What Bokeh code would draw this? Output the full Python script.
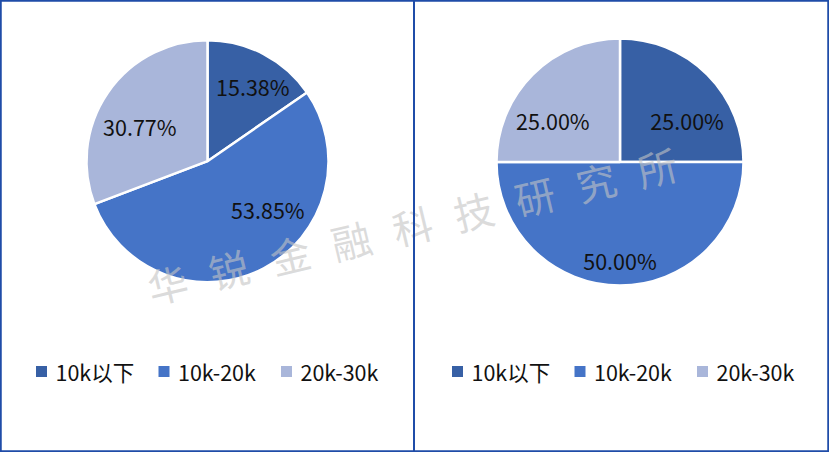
import math
from bokeh.plotting import figure
from bokeh.models import Range1d, Span, ColumnDataSource
from bokeh.core.properties import value
from bokeh.embed import file_html
from bokeh.resources import INLINE

# data
categories = ["10k以下", "10k-20k", "20k-30k"]
share_left = [15.38, 53.85, 30.77]
share_right = [25.00, 50.00, 25.00]
colors = ["#3760A5", "#4574C7", "#A9B6DA"]
watermark = "华锐金融科技研究所"

# drawing is done in reference pixel space (y measured downward, flipped below)
REF_W, REF_H = 829, 452
FONT = "Noto Sans CJK SC"

p = figure(width=REF_W, height=REF_H, x_range=Range1d(0, REF_W), y_range=Range1d(0, REF_H),
           output_backend="svg", toolbar_location=None, min_border=0)
p.axis.visible = False
p.grid.visible = False
p.outline_line_color = "#1F4CA8"
p.outline_line_width = 2.5
p.background_fill_color = "white"

# divider between the two panels
p.add_layout(Span(location=413.5, dimension="height", line_color="#1F4CA8", line_width=2))


def draw_pie(cx, cy, r, shares, nudges):
    total = sum(shares)
    acc = 0
    d = dict(start=[], end=[], color=colors, lx=[], ly=[], label=[])
    for s, (nx, ny) in zip(shares, nudges):
        a0 = math.pi / 2 - 2 * math.pi * (acc + s) / total
        a1 = math.pi / 2 - 2 * math.pi * acc / total
        mid = (a0 + a1) / 2
        d["start"].append(a0)
        d["end"].append(a1)
        d["lx"].append(cx + 0.7 * r * math.cos(mid) + nx)
        d["ly"].append(REF_H - cy + 0.7 * r * math.sin(mid) - ny)
        d["label"].append(f"{s:.2f}%")
        acc += s
    src = ColumnDataSource(d)
    p.wedge(x=cx, y=REF_H - cy, radius=r, start_angle="start", end_angle="end",
            fill_color="color", line_color="white", line_width=2.5, source=src)
    return src


def draw_labels(src):
    p.text(x="lx", y="ly", text="label", source=src, text_font=value(FONT),
           text_font_size="21.5px", text_color="#111111",
           text_align="center", text_baseline="middle")


def draw_legend(x0, y0):
    offsets = [0, 122.5, 245]
    xs = [x0 + o for o in offsets]
    p.scatter(x=xs, y=[REF_H - y0] * 3, marker="square", size=11,
              fill_color=colors, line_color=None)
    p.text(x=[x + 14 for x in xs], y=[REF_H - y0] * 3, text=categories,
           text_font=value(FONT), text_font_size="21.5px", text_color="#111111",
           text_align="left", text_baseline="middle")


src_l = draw_pie(207, 160.7, 121, share_left, [(6, 0), (21, -27), (2, 13)])
src_r = draw_pie(619.5, 161.5, 123.5, share_right, [(6, 20), (0, 12), (-6, 20)])

# watermark laid along a tilted line
ang = math.atan2(14.6, 61.2)
step = math.hypot(61.2, 14.6)
wx = [167 + i * step * math.cos(ang) for i in range(len(watermark))]
wy = [REF_H - 283 + i * step * math.sin(ang) for i in range(len(watermark))]
p.text(x=wx, y=wy, text=list(watermark), angle=ang, text_font=value(FONT),
       text_font_size="40px", text_color="#C4C4C4", text_alpha=0.6,
       text_align="center", text_baseline="middle")

draw_labels(src_l)
draw_labels(src_r)

draw_legend(41, 371)
draw_legend(457, 371)

open("out.html", "w").write(file_html(p, INLINE))
